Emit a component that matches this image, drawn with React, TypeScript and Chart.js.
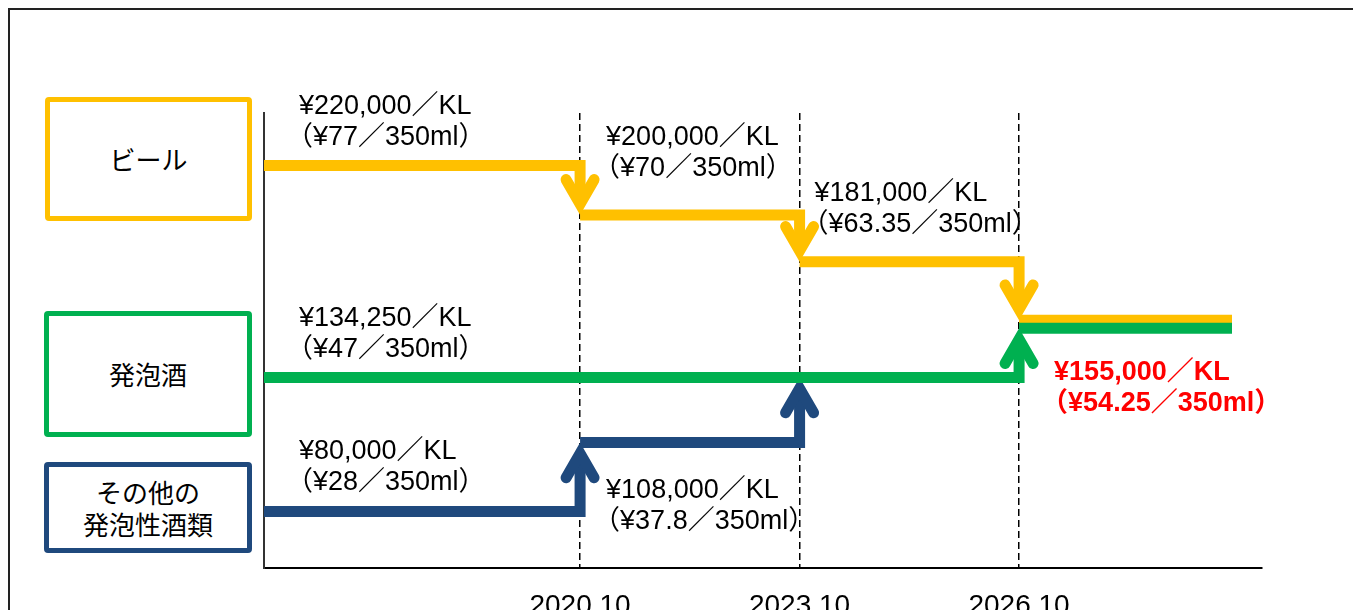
import React, { useEffect, useRef } from 'react';
import { Chart, registerables } from 'chart.js';

Chart.register(...registerables);

// ---- axis data ----
const xTickValues = [2020.75, 2023.75, 2026.75];
const xTickLabels = ['2020.10', '2023.10', '2026.10'];
const xAxisMin = 2016.43;
const xAxisMax = 2030.07;
const lineEndX = 2029.66;
const yAxisMin = 57200;
const yAxisMax = 241200;

// ---- series data (tax per KL, step changes) ----
const beerDates = [2016.43, 2020.75, 2023.75, 2026.75];
const beerPrices = [220000, 200000, 181000, 155000];
const happoshuDates = [2016.43, 2026.75];
const happoshuPrices = [134250, 155000];
const otherDates = [2016.43, 2020.75, 2023.75];
const otherPrices = [80000, 108000, 134250];

// ---- annotation texts ----
const beerKlLabels = ['¥220,000／KL', '¥200,000／KL', '¥181,000／KL'];
const beerCanLabels = ['（¥77／350ml）', '（¥70／350ml）', '（¥63.35／350ml）'];
const happoshuKlLabels = ['¥134,250／KL', '¥155,000／KL'];
const happoshuCanLabels = ['（¥47／350ml）', '（¥54.25／350ml）'];
const otherKlLabels = ['¥80,000／KL', '¥108,000／KL'];
const otherCanLabels = ['（¥28／350ml）', '（¥37.8／350ml）'];

const legendBeer = ['ビール'];
const legendHapposhu = ['発泡酒'];
const legendOther = ['その他の', '発泡性酒類'];

const YELLOW = '#FFC000';
const GREEN = '#00B050';
const NAVY = '#1F497D';
const LATIN_FONT = '"Liberation Sans", "Noto Sans CJK JP", sans-serif';

type Series = {
  dates: number[];
  prices: number[];
  color: string;
  extend: boolean;
  lastShift: number;
  kl: string[];
  can: string[];
  pos: { dx: number; dy: number; red?: boolean }[];
};

const LINE_W = 11;
const ARM = 28;
const HALF = Math.PI / 6;

const stepPlugin = {
  id: 'stepArrows',
  afterDatasetsDraw(chart: any) {
    const ctx: CanvasRenderingContext2D = chart.ctx;
    const xs = chart.scales.x;
    const ys = chart.scales.y;
    const X = (v: number) => xs.getPixelForValue(v);
    const Y = (v: number) => ys.getPixelForValue(v);
    const series: Series[] = chart.options.plugins.stepArrows.series;

    ctx.save();
    for (const s of series) {
      const n = s.dates.length;
      const yv = s.prices.map((p, i) => Y(p) + (i === n - 1 ? s.lastShift : 0));
      ctx.strokeStyle = s.color;
      ctx.lineWidth = LINE_W;
      for (let i = 0; i < n; i++) {
        const x0 = X(s.dates[i]);
        const y = yv[i];
        if (i < n - 1) {
          const x1 = X(s.dates[i + 1]);
          const yNext = yv[i + 1];
          const dir = Math.sign(yNext - y);
          const back = (LINE_W / 2) / Math.sin(HALF);
          const vy = yNext - dir * back;
          ctx.lineJoin = 'miter';
          ctx.lineCap = 'butt';
          ctx.beginPath();
          ctx.moveTo(x0, y);
          ctx.lineTo(x1, y);
          ctx.lineTo(x1, vy);
          ctx.stroke();
          ctx.lineCap = 'round';
          ctx.beginPath();
          ctx.moveTo(x1 - ARM * Math.sin(HALF), vy - dir * ARM * Math.cos(HALF));
          ctx.lineTo(x1, vy);
          ctx.lineTo(x1 + ARM * Math.sin(HALF), vy - dir * ARM * Math.cos(HALF));
          ctx.stroke();
        } else if (s.extend) {
          ctx.lineCap = 'butt';
          ctx.beginPath();
          ctx.moveTo(x0, y);
          ctx.lineTo(X(lineEndX), y);
          ctx.stroke();
        }
      }
    }
    // annotations
    ctx.textAlign = 'left';
    ctx.textBaseline = 'middle';
    for (const s of series) {
      const n = s.dates.length;
      s.kl.forEach((txt, i) => {
        const p = s.pos[i];
        const y = Y(s.prices[i]) + (i === n - 1 ? s.lastShift : 0);
        const x = X(s.dates[i]) + p.dx;
        ctx.font = (p.red ? 'bold ' : '') + '27px ' + LATIN_FONT;
        ctx.fillStyle = p.red ? '#FF0000' : '#000000';
        ctx.fillText(txt, x, y + p.dy);
        ctx.fillText(s.can[i], x - 13, y + p.dy + 31);
      });
    }
    ctx.restore();
  },
};

function LegendBox(props: { lines: string[]; color: string; left: number; top: number; width: number; height: number }) {
  return (
    <div
      style={{
        position: 'absolute',
        left: props.left,
        top: props.top,
        width: props.width,
        height: props.height,
        boxSizing: 'border-box',
        border: `5px solid ${props.color}`,
        borderRadius: 4,
        display: 'flex',
        flexDirection: 'column',
        alignItems: 'center',
        justifyContent: 'center',
        fontFamily: '"Noto Sans CJK JP", sans-serif',
        fontSize: 26,
        lineHeight: '32px',
        color: '#000',
        background: '#fff',
      }}
    >
      {props.lines.map((l) => (
        <div key={l}>{l}</div>
      ))}
    </div>
  );
}

export default function App() {
  const canvasRef = useRef<HTMLCanvasElement | null>(null);

  useEffect(() => {
    document.documentElement.style.overflow = 'hidden';
    const canvas = canvasRef.current;
    if (!canvas) return;

    const series: Series[] = [
      {
        dates: otherDates, prices: otherPrices, color: NAVY, extend: false, lastShift: 0,
        kl: otherKlLabels, can: otherCanLabels,
        pos: [{ dx: 35, dy: -60.5 }, { dx: 26, dy: 48.5 }],
      },
      {
        dates: beerDates, prices: beerPrices, color: YELLOW, extend: true, lastShift: -6,
        kl: beerKlLabels, can: beerCanLabels,
        pos: [{ dx: 35, dy: -59 }, { dx: 26, dy: -77 }, { dx: 15, dy: -68 }],
      },
      {
        dates: happoshuDates, prices: happoshuPrices, color: GREEN, extend: true, lastShift: 2,
        kl: happoshuKlLabels, can: happoshuCanLabels,
        pos: [{ dx: 35, dy: -59 }, { dx: 35, dy: 44, red: true }],
      },
    ];

    const toPts = (d: number[], p: number[]) => d.map((x, i) => ({ x, y: p[i] }));

    const chart = new Chart(canvas, {
      type: 'line',
      data: {
        datasets: [
          { label: 'ビール', data: toPts(beerDates, beerPrices), borderColor: YELLOW, showLine: false, pointRadius: 0 },
          { label: '発泡酒', data: toPts(happoshuDates, happoshuPrices), borderColor: GREEN, showLine: false, pointRadius: 0 },
          { label: 'その他の発泡性酒類', data: toPts(otherDates, otherPrices), borderColor: NAVY, showLine: false, pointRadius: 0 },
        ],
      },
      options: {
        animation: false,
        responsive: false,
        maintainAspectRatio: false,
        events: [],
        layout: { padding: { left: 254, top: 103, right: 99, bottom: 0 } },
        plugins: {
          legend: { display: false },
          tooltip: { enabled: false },
          // @ts-ignore
          stepArrows: { series },
        },
        scales: {
          x: {
            type: 'linear',
            min: xAxisMin,
            max: xAxisMax,
            bounds: 'data',
            afterBuildTicks: (s: any) => {
              s.ticks = xTickValues.map((v) => ({ value: v }));
            },
            afterFit: (s: any) => {
              s.height = 42;
            },
            ticks: {
              callback: (_v: any, i: number) => xTickLabels[i],
              autoSkip: false,
              maxRotation: 0,
              padding: 21,
              color: '#000',
              font: { family: LATIN_FONT, size: 28 },
            },
            grid: { display: true, drawTicks: false, color: '#000', lineWidth: 1.5 },
            border: { display: true, color: '#000', width: 2, dash: [7, 4] },
          },
          y: {
            type: 'linear',
            min: yAxisMin,
            max: yAxisMax,
            ticks: { display: false },
            grid: { display: false },
            border: { display: true, color: '#333', width: 2 },
            afterFit: (s: any) => {
              s.width = 0;
            },
          },
        },
      } as any,
      plugins: [stepPlugin],
    });
    return () => chart.destroy();
  }, []);

  return (
    <div
      style={{
        position: 'relative',
        width: 1400,
        height: 600,
        borderTop: '2px solid #222',
        borderLeft: '2px solid #222',
        background: '#fff',
      }}
    >
      <canvas
        ref={canvasRef}
        width={1351}
        height={600}
        style={{ position: 'absolute', left: 0, top: 0, width: 1351, height: 600 }}
      />
      <LegendBox lines={legendBeer} color={YELLOW} left={35} top={87} width={207} height={124} />
      <LegendBox lines={legendHapposhu} color={GREEN} left={34} top={301} width={208} height={126} />
      <LegendBox lines={legendOther} color={NAVY} left={34} top={452} width={208} height={91} />
    </div>
  );
}
